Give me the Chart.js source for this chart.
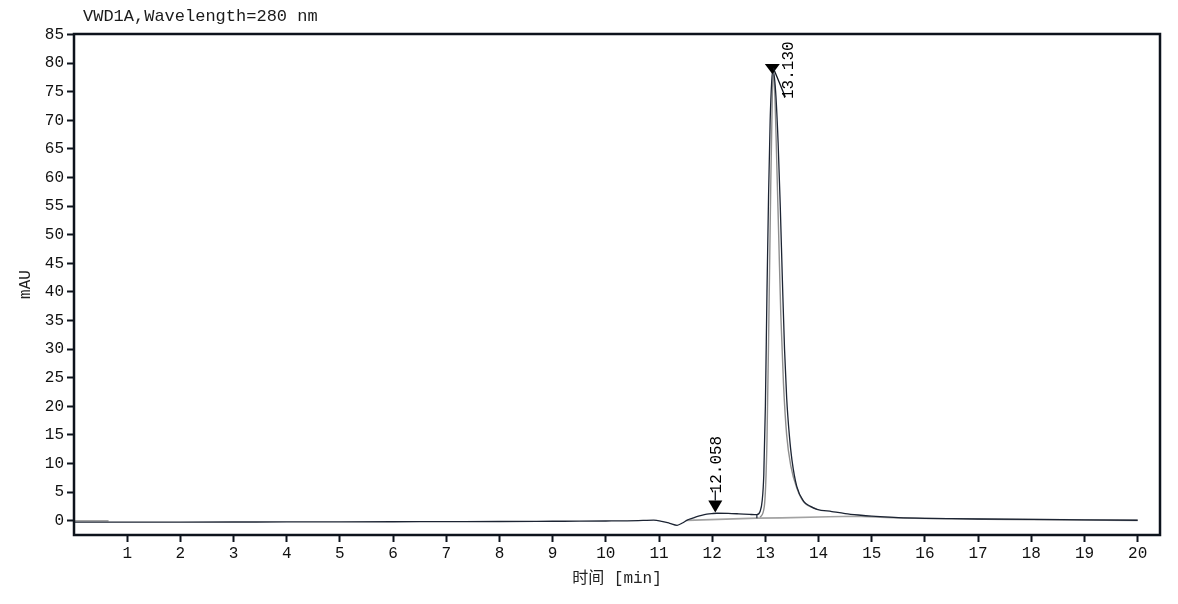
<!DOCTYPE html>
<html>
<head>
<meta charset="utf-8">
<title>VWD1A chromatogram</title>
<script src="https://cdn.jsdelivr.net/npm/chart.js@4/dist/chart.umd.min.js"></script>
<style>
  html, body { margin: 0; padding: 0; background: #fff; }
  #wrap { width: 1178px; height: 604px; position: relative; }
</style>
</head>
<body>
<div id="wrap"><canvas id="chart"></canvas></div>
<script>
// ---- data ----
var TITLE = "VWD1A,Wavelength=280 nm";

// detector trace, retention time [min] / signal [mAU]
var traceTime = [0, 1, 2, 3, 4, 5, 6, 7, 8, 9, 9.5, 10, 10.4, 10.7, 10.9, 11.05, 11.2, 11.34,
  11.45, 11.53, 11.62, 11.71, 11.8, 11.9, 12.0, 12.09, 12.3, 12.5, 12.7, 12.84, 12.9, 12.94,
  12.97, 13.0, 13.03, 13.06, 13.09, 13.12, 13.14, 13.17, 13.2, 13.24, 13.28, 13.32, 13.36,
  13.4, 13.45, 13.5, 13.59, 13.72, 13.85, 13.97, 14.25, 14.5, 14.75, 15.0, 15.5, 16.0, 16.5,
  17, 18, 19, 20];
var traceSignal = [-0.25, -0.25, -0.24, -0.23, -0.22, -0.2, -0.18, -0.16, -0.14, -0.1, -0.08,
  -0.05, -0.02, 0.05, 0.1, -0.1, -0.45, -0.8, -0.35, 0.1, 0.4, 0.7, 0.95, 1.15, 1.25, 1.3, 1.28,
  1.2, 1.1, 1.05, 1.6, 3.5, 8, 20, 40, 57, 70, 77, 78.8, 77.5, 74, 66, 55, 42, 30, 21.5, 15,
  10.6, 6, 3.4, 2.5, 2.0, 1.6, 1.25, 1.0, 0.8, 0.55, 0.42, 0.35, 0.3, 0.22, 0.15, 0.08];

// grey overlay of the main peak, sits just inside the black trace
var overlayTime = [12.9, 12.98, 13.03, 13.07, 13.1, 13.13, 13.15, 13.18, 13.21, 13.25, 13.29,
  13.34, 13.4, 13.48, 13.6, 13.72, 13.97];
var overlaySignal = [0.6, 2.5, 14, 38, 58, 74, 78, 74, 64, 50, 36, 24, 15, 9.5, 5.5, 3.3, 2.0];

// integration baselines (grey)
var base1Time = [0, 0.65];
var base1Signal = [0, 0];
var base2Time = [11.53, 12.84, 13.3, 14.2, 14.7, 15.5, 16.4, 17.5, 20];
var base2Signal = [0.05, 0.45, 0.5, 0.7, 0.78, 0.5, 0.33, 0.24, 0.06];

// drop line at the start of the main peak
var dropTime = [12.84, 12.84];
var dropSignal = [1.05, 0.45];

// peak annotations
var peakTimes = [12.058, 13.130];
var peakApex = [1.45, 78.8];
var peakLabels = ["12.058", "13.130"];

// axis ticks
var xTicks = [1, 2, 3, 4, 5, 6, 7, 8, 9, 10, 11, 12, 13, 14, 15, 16, 17, 18, 19, 20];
var yTicks = [0, 5, 10, 15, 20, 25, 30, 35, 40, 45, 50, 55, 60, 65, 70, 75, 80, 85];

function pairs(xs, ys) {
  return xs.map(function (x, i) { return { x: x, y: ys[i] }; });
}

var INK = "#0d131c";
var MONO = "'Liberation Mono', 'Noto Sans CJK SC', monospace";
Chart.defaults.font.family = MONO;
Chart.defaults.font.size = 16;
Chart.defaults.color = "#111";

// frame, title text and peak markers
var decorations = {
  id: "decorations",
  afterDatasetsDraw: function (chart) {
    var ctx = chart.ctx, a = chart.chartArea;
    var xs = chart.scales.x, ys = chart.scales.y;
    ctx.save();

    ctx.fillStyle = "#1a1a1a";
    ctx.font = "17px " + MONO;
    ctx.textBaseline = "middle";
    ctx.textAlign = "left";
    ctx.fillText(TITLE, 83, 16);

    ctx.strokeStyle = INK;
    ctx.fillStyle = "#000";
    ctx.lineWidth = 1.3;
    peakTimes.forEach(function (t, i) {
      var px = xs.getPixelForValue(t);
      var py = ys.getPixelForValue(peakApex[i]);
      ctx.font = "16px " + MONO;
      if (i === 0) {
        // arrow straight above the peak, label on top of it
        ctx.beginPath();
        ctx.moveTo(px, py);
        ctx.lineTo(px - 7, py - 12);
        ctx.lineTo(px + 7, py - 12);
        ctx.closePath();
        ctx.fill();
        ctx.beginPath();
        ctx.moveTo(px, py - 12);
        ctx.lineTo(px, py - 22);
        ctx.stroke();
        ctx.save();
        ctx.translate(px + 1, py - 19);
        ctx.rotate(-Math.PI / 2);
        ctx.fillText(peakLabels[i], 0, 0);
        ctx.restore();
      } else {
        // marker on the apex, leader line to a label offset to the right
        ctx.beginPath();
        ctx.moveTo(px, py + 4);
        ctx.lineTo(px - 7.5, py - 6);
        ctx.lineTo(px + 7.5, py - 6);
        ctx.closePath();
        ctx.fill();
        ctx.beginPath();
        ctx.moveTo(px + 1, py - 2);
        ctx.lineTo(px + 13, py + 27);
        ctx.stroke();
        ctx.save();
        ctx.translate(px + 16, py + 29);
        ctx.rotate(-Math.PI / 2);
        ctx.fillText(peakLabels[i], 0, 0);
        ctx.restore();
      }
    });

    ctx.strokeStyle = INK;
    ctx.lineWidth = 2.5;
    ctx.strokeRect(a.left, a.top, a.right - a.left, a.bottom - a.top);
    ctx.restore();
  }
};

var axisGrid = {
  display: true,
  drawOnChartArea: false,
  drawTicks: true,
  tickLength: 7,
  tickColor: INK,
  tickWidth: 2,
  color: INK
};

new Chart(document.getElementById("chart").getContext("2d"), {
  type: "line",
  data: {
    datasets: [
      { label: "signal", data: pairs(traceTime, traceSignal), borderColor: "#1c2433",
        borderWidth: 1.3, pointRadius: 0, cubicInterpolationMode: "monotone", order: 0 },
      { label: "drop", data: pairs(dropTime, dropSignal), borderColor: "#1c2433",
        borderWidth: 1.2, pointRadius: 0, order: 1 },
      { label: "overlay", data: pairs(overlayTime, overlaySignal), borderColor: "#8e8e8e",
        borderWidth: 1.4, pointRadius: 0, cubicInterpolationMode: "monotone", order: 2 },
      { label: "baseline 1", data: pairs(base1Time, base1Signal), borderColor: "#a3a3a3",
        borderWidth: 1.6, pointRadius: 0, order: 2 },
      { label: "baseline 2", data: pairs(base2Time, base2Signal), borderColor: "#a3a3a3",
        borderWidth: 1.6, pointRadius: 0, order: 2 }
    ]
  },
  options: {
    responsive: true,
    maintainAspectRatio: false,
    animation: false,
    events: [],
    layout: { padding: { top: 34, right: 18, left: 0, bottom: 0 } },
    scales: {
      x: {
        type: "linear",
        min: 0,
        max: 20.42,
        afterBuildTicks: function (s) { s.ticks = xTicks.map(function (v) { return { value: v }; }); },
        afterFit: function (s) { s.height = 69; },
        ticks: { padding: 2, maxRotation: 0, autoSkip: false, color: "#111",
                 callback: function (v) { return String(v); } },
        grid: axisGrid,
        border: { display: false },
        title: { display: true, text: "时间 [min]", color: "#222",
                 font: { size: 16 }, padding: { top: 0, bottom: 16 } }
      },
      y: {
        type: "linear",
        min: -2.5,
        max: 85.1,
        afterBuildTicks: function (s) { s.ticks = yTicks.map(function (v) { return { value: v }; }); },
        afterFit: function (s) { s.width = 74; },
        ticks: { padding: 3, autoSkip: false, color: "#111",
                 callback: function (v) { return String(v); } },
        grid: axisGrid,
        border: { display: false },
        title: { display: true, text: "mAU", color: "#222",
                 font: { size: 16 }, padding: { top: 16, bottom: 0 } }
      }
    },
    plugins: {
      legend: { display: false },
      tooltip: { enabled: false },
      title: { display: false }
    }
  },
  plugins: [decorations]
});
</script>
</body>
</html>
